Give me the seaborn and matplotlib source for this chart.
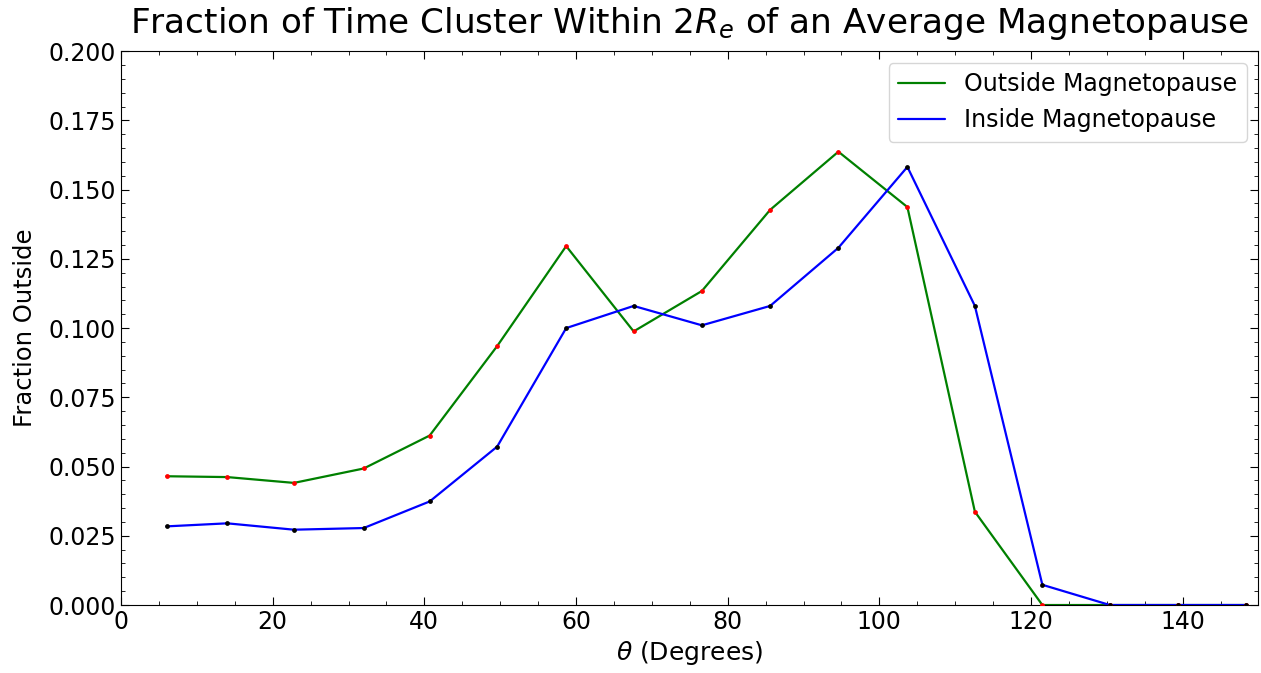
import numpy as np
import pandas as pd
import matplotlib
matplotlib.use('Agg')
import matplotlib.pyplot as plt
from matplotlib.ticker import MultipleLocator
import seaborn as sns

# bin centres (degrees) and fractions
theta = [6.0, 14.0, 22.8, 32.0, 40.7, 49.6, 58.7, 67.6, 76.6, 85.6,
         94.6, 103.7, 112.6, 121.5, 130.4, 139.4, 148.4]
frac_outside = [0.0465, 0.0462, 0.0441, 0.0493, 0.0612, 0.0935, 0.1296, 0.0988,
                0.1134, 0.1427, 0.1637, 0.1437, 0.0337, 0.0, 0.0, 0.0, 0.0]
frac_inside = [0.0284, 0.0295, 0.0272, 0.0278, 0.0374, 0.0572, 0.1000, 0.1080,
               0.1010, 0.1080, 0.1290, 0.1582, 0.1080, 0.0073, 0.0, 0.0, 0.0]

sns.set_style('ticks')
plt.rcParams.update({
    'font.family': ['DejaVu Sans'],
    'text.color': 'black', 'axes.labelcolor': 'black',
    'xtick.direction': 'in', 'ytick.direction': 'in',
    'xtick.top': True, 'ytick.right': True,
    'xtick.minor.visible': True, 'ytick.minor.visible': True,
    'axes.edgecolor': 'black', 'xtick.color': 'black', 'ytick.color': 'black',
})

df = pd.DataFrame({'theta': theta, 'out': frac_outside, 'in': frac_inside})

fig = plt.figure(figsize=(12.61, 6.73), dpi=100)
ax = fig.add_axes([0.096, 0.101, 0.902, 0.823])

sns.lineplot(data=df, x='theta', y='out', color='green', lw=1.6,
             label='Outside Magnetopause', ax=ax)
sns.scatterplot(data=df, x='theta', y='out', color='red', s=12, linewidth=0,
                ax=ax, zorder=3)
sns.lineplot(data=df, x='theta', y='in', color='blue', lw=1.6,
             label='Inside Magnetopause', ax=ax)
sns.scatterplot(data=df, x='theta', y='in', color='black', s=12, linewidth=0,
                ax=ax, zorder=3)

ax.set_xlim(0, 150)
ax.set_ylim(0, 0.2)
ax.xaxis.set_major_locator(MultipleLocator(20))
ax.xaxis.set_minor_locator(MultipleLocator(5))
ax.yaxis.set_major_locator(MultipleLocator(0.025))
ax.yaxis.set_minor_locator(MultipleLocator(0.005))
ax.tick_params(which='major', length=6, labelsize=17)
ax.tick_params(which='minor', length=3)

ax.set_xlabel(r'$\theta$ (Degrees)', fontsize=18)
ax.set_ylabel('Fraction Outside', fontsize=17.5, labelpad=8)
ax.set_title(r'Fraction of Time Cluster Within $2R_e$ of an Average Magnetopause',
             fontsize=24.7, pad=13)
ax.legend(loc='upper right', fontsize=17)

fig.savefig('out.png', dpi=100)
